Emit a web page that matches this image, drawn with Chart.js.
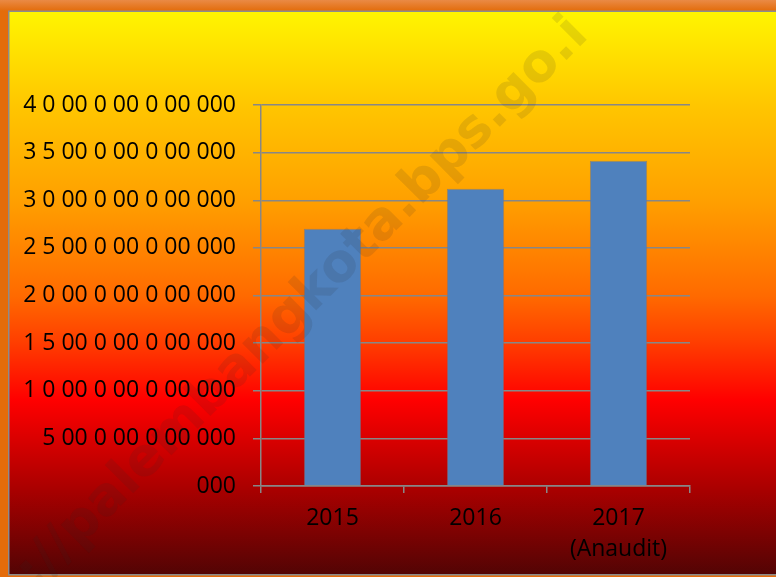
<!DOCTYPE html>
<html><head><meta charset="utf-8">
<script src="https://cdn.jsdelivr.net/npm/chart.js@4/dist/chart.umd.min.js"></script>
<style>html,body{margin:0;padding:0;background:#fff;overflow:hidden}canvas{display:block}</style>
</head><body>
<canvas id="c" width="776" height="577"></canvas>
<script>
const categories = ['2015', '2016', ['2017', '(Anaudit)']];
const values = [2.70e12, 3.12e12, 3.415e12];
const yTickValues = [0, 5e11, 1e12, 1.5e12, 2e12, 2.5e12, 3e12, 3.5e12, 4e12];
const yTickLabels = ['000', '5 00 0 00 0 00 000', '1 0 00 0 00 0 00 000', '1 5 00 0 00 0 00 000',
  '2 0 00 0 00 0 00 000', '2 5 00 0 00 0 00 000', '3 0 00 0 00 0 00 000', '3 5 00 0 00 0 00 000',
  '4 0 00 0 00 0 00 000'];
const watermarkText = '://palembangkota.bps.go.i';

const bgPlugin = {
  id: 'bg',
  beforeDraw(chart) {
    const ctx = chart.ctx, W = chart.width, H = chart.height;
    ctx.save();
    const fg = ctx.createLinearGradient(0, 0, 0, 11);
    fg.addColorStop(0, '#EA8A45');
    fg.addColorStop(1, '#E36C0A');
    ctx.fillStyle = '#E46C0A';
    ctx.fillRect(0, 0, W, H);
    ctx.fillStyle = fg;
    ctx.fillRect(0, 0, W, 11);
    const top = 12, bottom = 575;
    const g = ctx.createLinearGradient(0, top, 0, bottom);
    g.addColorStop(0, '#FFF500');
    g.addColorStop(0.165, '#FFC600');
    g.addColorStop(0.334, '#FFA000');
    g.addColorStop(0.504, '#FF6A00');
    g.addColorStop(0.583, '#FF4000');
    g.addColorStop(0.689, '#FF0000');
    g.addColorStop(0.85, '#A80000');
    g.addColorStop(1, '#520404');
    ctx.fillStyle = g;
    ctx.fillRect(8, 11, W - 8, bottom - 11);
    ctx.strokeStyle = '#8C8C8C';
    ctx.lineWidth = 1.5;
    ctx.strokeRect(8.75, 11.25, W + 10, bottom - 11.5);
    ctx.restore();
  },
  afterDraw(chart) {
    const ctx = chart.ctx;
    ctx.save();
    ctx.translate(303, 304);
    ctx.rotate(-Math.PI / 4);
    ctx.font = 'bold 53px "DejaVu Sans"';
    ctx.fillStyle = 'rgba(40,40,40,0.12)';
    ctx.textAlign = 'center';
    ctx.textBaseline = 'middle';
    ctx.fillText(watermarkText, 0, 0);
    ctx.restore();
  }
};

const gridColor = '#878787';
new Chart(document.getElementById('c'), {
  type: 'bar',
  data: {
    labels: categories,
    datasets: [{
      data: values,
      backgroundColor: '#4F81BD',
      borderColor: 'rgba(110,120,140,0.7)',
      borderWidth: 1,
      categoryPercentage: 0.8,
      barPercentage: 0.5
    }]
  },
  options: {
    responsive: false,
    animation: false,
    devicePixelRatio: 1,
    layout: { padding: { left: 0, right: 86, top: 105, bottom: 0 } },
    plugins: { legend: { display: false }, tooltip: { enabled: false } },
    scales: {
      x: {
        afterFit(scale) { scale.height = 91; },
        grid: { display: true, drawOnChartArea: false, drawTicks: true, tickLength: 7, color: gridColor, lineWidth: 1.5, offset: true },
        border: { display: true, color: gridColor, width: 1.5 },
        ticks: { color: '#000', padding: 10, font: { family: '"Open Sans"', size: 23, lineHeight: 1.35 }, maxRotation: 0, autoSkip: false }
      },
      y: {
        min: 0, max: 4e12,
        afterFit(scale) { scale.width = 261; },
        afterBuildTicks(scale) { scale.ticks = yTickValues.map(v => ({ value: v })); },
        grid: { color: gridColor, lineWidth: 1.5, tickLength: 8 },
        border: { display: true, color: gridColor, width: 1.5 },
        ticks: {
          color: '#000', padding: 17,
          font: { family: '"Open Sans"', size: 23 },
          callback(v) { const i = yTickValues.indexOf(v); return i >= 0 ? yTickLabels[i] : ''; }
        }
      }
    }
  },
  plugins: [bgPlugin]
});
</script>
</body></html>
